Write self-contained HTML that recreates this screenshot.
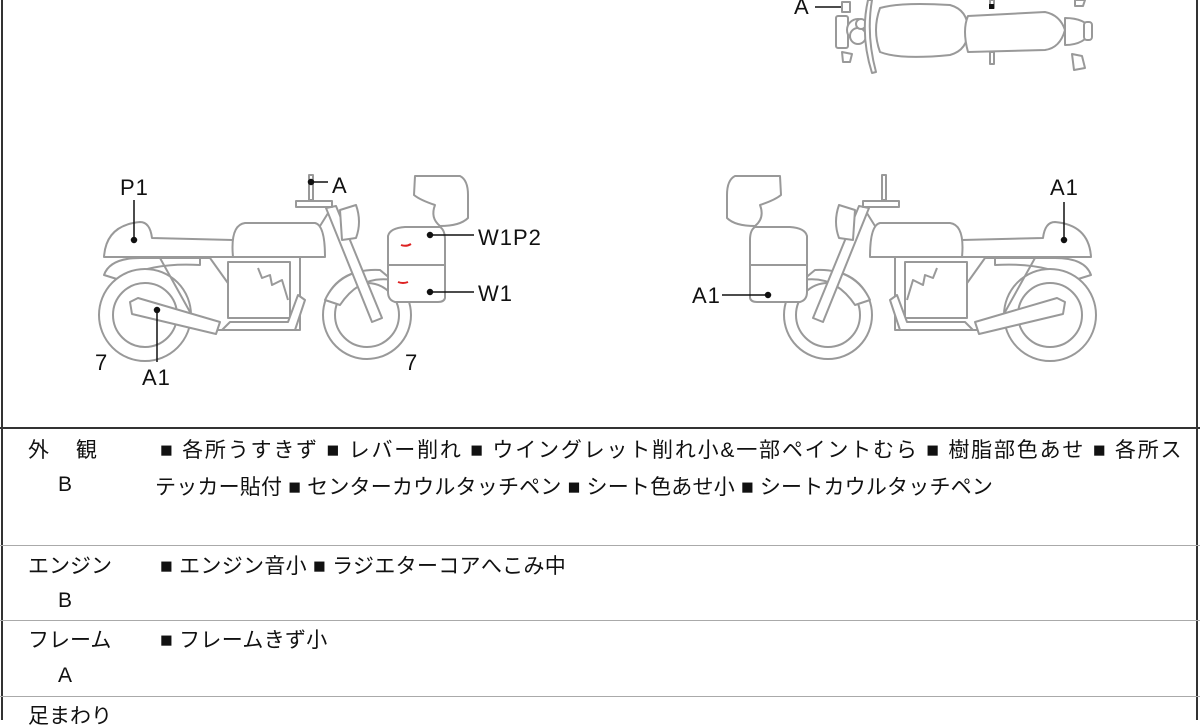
<!DOCTYPE html>
<html><head><meta charset="utf-8"><style>
body{margin:0;width:1200px;height:720px;overflow:hidden;background:#fff;font-family:"Liberation Sans","Noto Sans CJK JP",sans-serif;color:#111}
.t{position:absolute;font-size:21px;white-space:nowrap;line-height:1;letter-spacing:0}
.lbl{position:absolute;font-size:22px;line-height:1;letter-spacing:1px}
</style></head><body>
<div style="position:absolute;left:1px;top:0;width:2px;height:720px;background:#333"></div>
<div style="position:absolute;left:1196px;top:0;width:2px;height:720px;background:#333"></div>
<div style="position:absolute;left:0;top:427px;width:1200px;height:2px;background:#333"></div>
<div style="position:absolute;left:0;top:545px;width:1200px;height:1px;background:#aaa"></div>
<div style="position:absolute;left:0;top:620px;width:1200px;height:1px;background:#aaa"></div>
<div style="position:absolute;left:0;top:696px;width:1200px;height:1px;background:#aaa"></div>

<svg width="1200" height="428" style="position:absolute;left:0;top:0">
<defs>
<g id="bike" fill="#fff" stroke="#999" stroke-width="2" stroke-linejoin="round">
 <path d="M104,275 Q110,258 140,258 L200,258 L200,265 Q150,262 120,280 Z"/>
 <circle cx="145" cy="315" r="46"/><circle cx="145" cy="315" r="32"/>
 <circle cx="367" cy="315" r="44"/><circle cx="367" cy="315" r="32"/>
 <path d="M325,300 Q340,268 380,270 L392,280 Q360,275 340,305 Z"/>
 <path d="M160,258 L200,330 L300,330 L300,258" fill="none"/>
 <path d="M170,258 L210,258 L240,300" fill="none"/>
 <path d="M228,262 L228,318 L290,318 L290,262 Z"/>
 <path d="M258,268 L262,278 L270,275 L272,285 L282,280 L288,300" fill="none"/>
 <path d="M300,258 L330,210" fill="none"/>
 <path d="M222,330 L295,330 L305,300 L298,295 L288,322 L230,322 Z"/>
 <path d="M104,257 Q106,225 140,222 Q150,222 152,238 L233,240 L233,257 Z"/>
 <path d="M233,257 Q230,225 245,223 L315,223 Q325,225 325,257 Z"/>
 <line x1="104" y1="257" x2="325" y2="257"/>
 <path d="M326,208 L336,206 L382,318 L372,322 Z"/>
 <rect x="296" y="201" width="36" height="6"/>
 <path d="M340,210 L356,205 Q362,222 356,238 L342,240 Z"/>
 <path d="M309,175 L313,175 L313,200 L309,200 Z"/>
 <path d="M130,302 L138,298 L220,322 L216,334 L132,314 Z"/>
 <path d="M415,176 L460,176 Q468,180 468,195 L468,218 Q460,226 440,226 Q430,218 435,205 Q420,200 414,195 Z"/>
 <path d="M388,236 Q390,228 405,227 L440,227 Q445,230 445,240 L445,298 Q444,302 438,302 L395,302 Q388,300 388,292 Z"/>
 <line x1="388" y1="265" x2="445" y2="265"/>
</g>
</defs>
<use href="#bike"/>
<use href="#bike" transform="translate(1195,0) scale(-1,1)"/>
<path d="M401,245 Q406,247 411,244" stroke="#d22" stroke-width="2" fill="none"/>
<path d="M398,282 Q403,284 408,282" stroke="#d22" stroke-width="2" fill="none"/>
<g stroke="#111" stroke-width="1.5" fill="#111">
 <line x1="134" y1="200" x2="134" y2="240"/><circle cx="134" cy="240" r="2.5"/>
 <line x1="157" y1="310" x2="157" y2="362"/><circle cx="157" cy="310" r="2.5"/>
 <line x1="311" y1="182" x2="328" y2="182"/><circle cx="311" cy="182" r="2.5"/>
 <line x1="430" y1="235" x2="474" y2="235"/><circle cx="430" cy="235" r="2.5"/>
 <line x1="430" y1="292" x2="474" y2="292"/><circle cx="430" cy="292" r="2.5"/>
 <line x1="1064" y1="202" x2="1064" y2="240"/><circle cx="1064" cy="240" r="2.5"/>
 <line x1="722" y1="295" x2="768" y2="295"/><circle cx="768" cy="295" r="2.5"/>
 <line x1="815" y1="7" x2="846" y2="7"/><circle cx="846" cy="7" r="2.5"/>
</g>
<g fill="#fff" stroke="#999" stroke-width="2" stroke-linejoin="round">
 <path d="M842,2 L850,2 L850,12 L842,12 Z"/>
 <path d="M842,52 L852,54 L850,62 L843,62 Z"/>
 <rect x="836" y="16" width="12" height="32" rx="2"/>
 <circle cx="858" cy="30" r="11"/><circle cx="858" cy="36" r="8"/><circle cx="861" cy="24" r="5"/>
 <path d="M872,0 Q866,35 876,72 L872,73 Q860,35 868,0 Z"/>
 <path d="M880,8 Q900,2 950,5 Q968,10 968,30 Q968,50 950,55 Q900,60 880,52 Q872,30 880,8 Z"/>
 <path d="M968,16 L1045,12 Q1060,15 1065,30 Q1060,48 1045,50 L968,52 Q962,30 968,16 Z"/>
 <path d="M1065,18 Q1085,18 1092,30 Q1085,45 1065,45 Z"/>
 <rect x="1084" y="22" width="8" height="18" rx="3"/>
 <path d="M1072,54 L1082,56 L1085,68 L1074,70 Z"/>
 <path d="M1075,0 L1085,0 L1083,6 L1075,6 Z"/>
 <rect x="990" y="52" width="4" height="12"/>
 <rect x="990" y="0" width="4" height="8"/>
</g>
<rect x="989" y="4" width="5" height="5" fill="#111"/>
</svg>

<div class="lbl" style="left:120px;top:177px">P1</div>
<div class="lbl" style="left:332px;top:175px">A</div>
<div class="lbl" style="left:478px;top:227px">W1P2</div>
<div class="lbl" style="left:478px;top:283px">W1</div>
<div class="lbl" style="left:95px;top:352px">7</div>
<div class="lbl" style="left:405px;top:352px">7</div>
<div class="lbl" style="left:142px;top:367px">A1</div>
<div class="lbl" style="left:1050px;top:177px">A1</div>
<div class="lbl" style="left:692px;top:285px">A1</div>
<div class="lbl" style="left:794px;top:-4px">A</div>

<div class="t" style="left:28px;top:440px">外　 観</div>
<div class="t" style="left:58px;top:474px">B</div>
<div class="t" style="left:160px;top:440px;letter-spacing:1.8px">■ 各所うすきず ■ レバー削れ ■ ウイングレット削れ小&amp;一部ペイントむら ■ 樹脂部色あせ ■ 各所ス</div>
<div class="t" style="left:155px;top:477px;letter-spacing:0.2px">テッカー貼付 ■ センターカウルタッチペン ■ シート色あせ小 ■ シートカウルタッチペン</div>
<div class="t" style="left:28px;top:556px">エンジン</div>
<div class="t" style="left:58px;top:590px">B</div>
<div class="t" style="left:160px;top:556px;letter-spacing:0.3px">■ エンジン音小 ■ ラジエターコアへこみ中</div>
<div class="t" style="left:28px;top:630px">フレーム</div>
<div class="t" style="left:58px;top:665px">A</div>
<div class="t" style="left:160px;top:630px;letter-spacing:0.3px">■ フレームきず小</div>
<div class="t" style="left:28px;top:706px">足まわり</div>
</body></html>
